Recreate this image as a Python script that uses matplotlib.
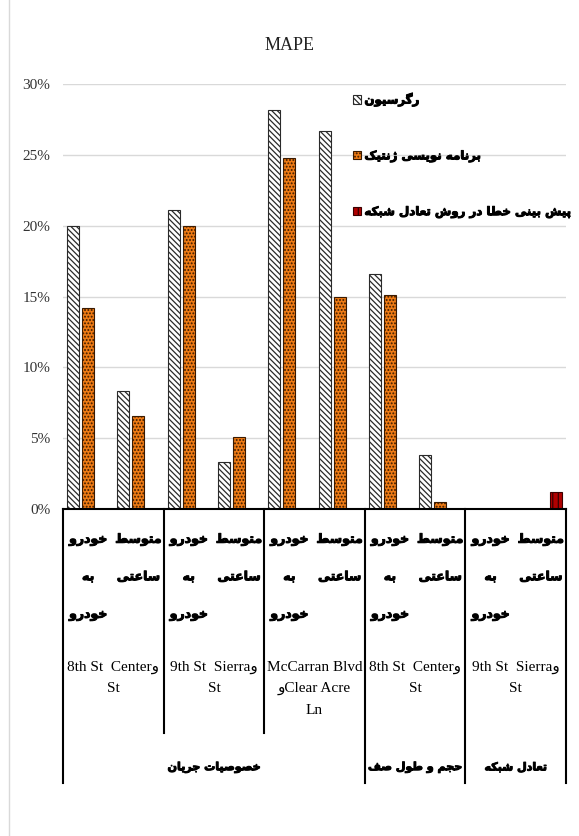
import matplotlib
matplotlib.use('Agg')
import matplotlib.pyplot as plt
import matplotlib.patheffects as pe
from matplotlib.patches import Patch
from matplotlib.lines import Line2D
from matplotlib.transforms import blended_transform_factory

# MAPE values (%) per bar position, left to right
regression = [20.0, 8.3, 21.1, 3.3, 28.2, 26.7, 16.6, 3.8, 0, 0]
genetic = [14.2, 6.6, 20.0, 5.1, 24.8, 15.0, 15.1, 0.5, 0, 0]
network = [0, 0, 0, 0, 0, 0, 0, 0, 0, 1.2]

series_names = ['رگرسیون', 'برنامه نویسی ژنتیک', 'پیش بینی خطا در روش تعادل شبکه']
flow_types = ['خودرو\nبه\nخودرو', 'متوسط\nساعتی'] * 5
# intersection names, written in the visual order they show on the chart
intersections = ['8th St  Centerو\nSt', '9th St  Sierraو\nSt', 'McCarran Blvd\nوClear Acre\nLn',
                 '8th St  Centerو\nSt', '9th St  Sierraو\nSt']
groups = ['خصوصیات جریان', 'حجم و طول صف', 'تعادل شبکه']
group_spans = [(-0.5, 5.5), (5.5, 7.5), (7.5, 9.5)]
yticks = [0, 5, 10, 15, 20, 25, 30]

# matplotlib has no arabic shaping, so pick presentation forms by hand
FORMS = {
    'ا': ('\uFE8D', '\uFE8E', None, None),
    'ب': ('\uFE8F', '\uFE90', '\uFE91', '\uFE92'),
    'پ': ('\uFB56', '\uFB57', '\uFB58', '\uFB59'),
    'ت': ('\uFE95', '\uFE96', '\uFE97', '\uFE98'),
    'ج': ('\uFE9D', '\uFE9E', '\uFE9F', '\uFEA0'),
    'ح': ('\uFEA1', '\uFEA2', '\uFEA3', '\uFEA4'),
    'خ': ('\uFEA5', '\uFEA6', '\uFEA7', '\uFEA8'),
    'د': ('\uFEA9', '\uFEAA', None, None),
    'ر': ('\uFEAD', '\uFEAE', None, None),
    'ژ': ('\uFB8A', '\uFB8B', None, None),
    'س': ('\uFEB1', '\uFEB2', '\uFEB3', '\uFEB4'),
    'ش': ('\uFEB5', '\uFEB6', '\uFEB7', '\uFEB8'),
    'ص': ('\uFEB9', '\uFEBA', '\uFEBB', '\uFEBC'),
    'ط': ('\uFEC1', '\uFEC2', '\uFEC3', '\uFEC4'),
    'ع': ('\uFEC9', '\uFECA', '\uFECB', '\uFECC'),
    'ف': ('\uFED1', '\uFED2', '\uFED3', '\uFED4'),
    'ک': ('\uFB8E', '\uFB8F', '\uFB90', '\uFB91'),
    'گ': ('\uFB92', '\uFB93', '\uFB94', '\uFB95'),
    'ل': ('\uFEDD', '\uFEDE', '\uFEDF', '\uFEE0'),
    'م': ('\uFEE1', '\uFEE2', '\uFEE3', '\uFEE4'),
    'ن': ('\uFEE5', '\uFEE6', '\uFEE7', '\uFEE8'),
    'ه': ('\uFEE9', '\uFEEA', '\uFEEB', '\uFEEC'),
    'و': ('\uFEED', '\uFEEE', None, None),
    'ی': ('\uFBFC', '\uFBFD', '\uFBFE', '\uFBFF'),
}


def fa_line(text):
    out = []
    for i, ch in enumerate(text):
        if ch not in FORMS:
            out.append(ch)
            continue
        prev = text[i - 1] if i > 0 else ''
        nxt = text[i + 1] if i + 1 < len(text) else ''
        after = prev in FORMS and FORMS[prev][2] is not None
        before = FORMS[ch][2] is not None and nxt in FORMS
        iso, fin, ini, med = FORMS[ch]
        if after and before:
            out.append(med)
        elif after:
            out.append(fin)
        elif before:
            out.append(ini)
        else:
            out.append(iso)
    return ''.join(reversed(out))


def fa(text):
    return '\n'.join(fa_line(l) for l in text.split('\n'))


plt.rcParams['hatch.linewidth'] = 0.9
heavy = [pe.withStroke(linewidth=0.7, foreground='black')]

fig = plt.figure(figsize=(5.79, 8.36), dpi=100)
ax = fig.add_axes([63 / 579, 1 - 509 / 836, 503 / 579, 425 / 836])

x = list(range(len(regression)))
w = 0.24
styles = [
    dict(color='white', edgecolor='#2a2a2a', hatch='\\\\\\\\\\\\'),
    dict(color='#EE7A14', edgecolor='#3a1a00', hatch='.....'),
    dict(color='#B00000', edgecolor='#3a0000', hatch='|||'),
]
for off, vals, st in zip([-0.3, 0, 0.3], [regression, genetic, network], styles):
    ax.bar([i + off for i in x], vals, width=w, linewidth=0.8, **st)

ax.set_xlim(-0.5, 9.5)
ax.set_ylim(0, 30)
ax.set_yticks(yticks)
ax.set_yticklabels([f'{v}%' for v in yticks], fontfamily='Liberation Serif', fontsize=11, color='#333333')
ax.set_xticks([])
ax.tick_params(axis='y', length=0, pad=9)
ax.yaxis.grid(True, color='#d9d9d9', linewidth=1)
ax.set_axisbelow(True)
for s in ['left', 'right', 'top']:
    ax.spines[s].set_visible(False)
ax.spines['bottom'].set_linewidth(1.5)

# multi level category axis
trans = blended_transform_factory(ax.transData, ax.transAxes)
for i, lab in enumerate(flow_types):
    ax.text(i, -0.056, fa(lab), transform=trans, ha='center', va='top', fontsize=9,
            fontweight='bold', linespacing=3.45, clip_on=False, path_effects=heavy)
for g, lab in enumerate(intersections):
    ax.text(2 * g + 0.5, -0.357, lab, transform=trans, ha='center', va='top',
            family=['Liberation Serif', 'DejaVu Sans'], fontsize=11, linespacing=1.85, clip_on=False)
for lab, (a, b) in zip(groups, group_spans):
    ax.text((a + b) / 2, -0.608, fa(lab), transform=trans, ha='center', va='center',
            fontsize=8, fontweight='bold', clip_on=False, path_effects=heavy)
for xb in [1.5, 3.5]:
    ax.plot([xb, xb], [0, -0.527], transform=trans, color='black', lw=1.5, clip_on=False)
for xb in [-0.5, 5.5, 7.5, 9.5]:
    ax.plot([xb, xb], [0, -0.645], transform=trans, color='black', lw=1.5, clip_on=False)

fig.text(0.5, 1 - 45 / 836, 'MAPE', ha='center', va='center', fontfamily='Liberation Serif',
         fontsize=13, color='#222222')

handles = [Patch(facecolor=st['color'], edgecolor=st['edgecolor'], hatch=st['hatch'], linewidth=0.8)
           for st in styles]
leg = fig.legend(handles, [fa(n) for n in series_names], loc='upper left',
                 bbox_to_anchor=(342 / 579, 1 - 82 / 836), frameon=False,
                 prop={'size': 8.5, 'weight': 'bold'}, handlelength=0.7, handleheight=0.7,
                 handletextpad=0.3, labelspacing=3.6)
for t in leg.get_texts():
    t.set_path_effects(heavy)

fig.add_artist(Line2D([9 / 579, 9 / 579], [0, 1], color='#d9d9d9', lw=1, transform=fig.transFigure))

fig.savefig('out.png', dpi=100)
